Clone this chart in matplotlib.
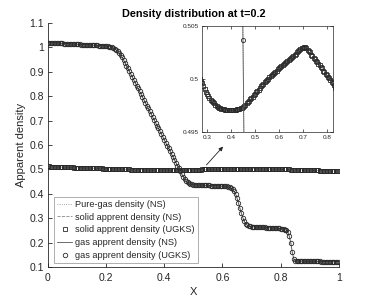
import numpy as np
import matplotlib
matplotlib.use("Agg")
import matplotlib.pyplot as plt

plt.rcParams['font.family'] = ['Liberation Sans', 'DejaVu Sans']

# grid (x positions of the cells)
x = np.linspace(0.0, 1.0, 201)

gas_density = [
    1.019, 1.019, 1.018, 1.018, 1.018, 1.017, 1.017, 1.017, 1.016, 1.016,
    1.016, 1.015, 1.015, 1.015, 1.014, 1.014, 1.014, 1.013, 1.013, 1.013,
    1.012, 1.012, 1.012, 1.011, 1.011, 1.011, 1.010, 1.010, 1.010, 1.009,
    1.009, 1.009, 1.008, 1.008, 1.008, 1.007, 1.007, 1.006, 1.006, 1.005,
    1.005, 1.004, 1.003, 1.002, 1.001, 0.998, 0.994, 0.989, 0.983, 0.978,
    0.970, 0.960, 0.9485, 0.9368, 0.9251, 0.9134, 0.9017, 0.8900, 0.8783, 0.8666,
    0.8549, 0.8432, 0.8315, 0.8198, 0.8080, 0.7963, 0.7846, 0.7729, 0.7612, 0.7495,
    0.7378, 0.7261, 0.7144, 0.7027, 0.6910, 0.6793, 0.6676, 0.6559, 0.6442, 0.6325,
    0.6208, 0.6090, 0.5973, 0.5856, 0.5739, 0.5622, 0.5505, 0.5388, 0.5271, 0.5154,
    0.5037, 0.492, 0.481, 0.470, 0.461, 0.453, 0.447, 0.443, 0.440, 0.438,
    0.437, 0.436, 0.436, 0.436, 0.435, 0.435, 0.435, 0.435, 0.434, 0.434,
    0.434, 0.434, 0.433, 0.433, 0.433, 0.433, 0.432, 0.432, 0.432, 0.431,
    0.431, 0.431, 0.430, 0.430, 0.428, 0.426, 0.423, 0.418, 0.410, 0.400,
    0.383, 0.362, 0.340, 0.320, 0.302, 0.287, 0.277, 0.271, 0.268, 0.266,
    0.265, 0.265, 0.264, 0.264, 0.263, 0.263, 0.263, 0.262, 0.262, 0.262,
    0.261, 0.261, 0.261, 0.260, 0.260, 0.260, 0.259, 0.259, 0.258, 0.258,
    0.257, 0.256, 0.255, 0.253, 0.251, 0.242, 0.225, 0.198, 0.160, 0.133,
    0.125, 0.124, 0.124, 0.124, 0.124, 0.124, 0.124, 0.123, 0.123, 0.123,
    0.123, 0.123, 0.123, 0.123, 0.123, 0.123, 0.123, 0.123, 0.122, 0.122,
    0.122, 0.122, 0.122, 0.122, 0.122, 0.122, 0.122, 0.122, 0.122, 0.122,
    0.122,
]

solid_density = [
    0.5120, 0.5117, 0.5114, 0.5111, 0.5108, 0.5105, 0.5102, 0.5099, 0.5096, 0.5093,
    0.5090, 0.5088, 0.5086, 0.5084, 0.5082, 0.5080, 0.5078, 0.5076, 0.5074, 0.5072,
    0.5070, 0.5068, 0.5066, 0.5064, 0.5062, 0.5060, 0.5058, 0.5056, 0.5054, 0.5052,
    0.5050, 0.5048, 0.5046, 0.5044, 0.5042, 0.5040, 0.5038, 0.5036, 0.5034, 0.5032,
    0.5030, 0.5028, 0.5026, 0.5024, 0.5022, 0.5020, 0.5018, 0.5016, 0.5014, 0.5012,
    0.5010, 0.5008, 0.5005, 0.5003, 0.5000, 0.4998, 0.4996, 0.4993, 0.4991, 0.4988,
    0.4986, 0.4984, 0.4982, 0.4980, 0.4979, 0.4978, 0.4977, 0.4976, 0.4975, 0.4974,
    0.4973, 0.4973, 0.4972, 0.4972, 0.4972, 0.4971, 0.4971, 0.4971, 0.4971, 0.4971,
    0.4971, 0.4971, 0.4971, 0.4971, 0.4971, 0.4972, 0.4972, 0.4972, 0.4973, 0.4973,
    0.4974, 0.4975, 0.4976, 0.4977, 0.4978, 0.4979, 0.4981, 0.4982, 0.4983, 0.4985,
    0.4986, 0.4988, 0.4989, 0.4990, 0.4992, 0.4993, 0.4994, 0.4995, 0.4997, 0.4998,
    0.4999, 0.5000, 0.5002, 0.5003, 0.5004, 0.5005, 0.5006, 0.5007, 0.5008, 0.5009,
    0.5010, 0.5011, 0.5012, 0.5013, 0.5014, 0.5015, 0.5016, 0.5017, 0.5018, 0.5019,
    0.5020, 0.5021, 0.5022, 0.5023, 0.5024, 0.5025, 0.5026, 0.5027, 0.5028, 0.5029,
    0.5029, 0.5030, 0.5030, 0.5029, 0.5027, 0.5026, 0.5025, 0.5023, 0.5022, 0.5020,
    0.5019, 0.5017, 0.5016, 0.5014, 0.5013, 0.5011, 0.5010, 0.5008, 0.5007, 0.5005,
    0.5004, 0.5002, 0.5001, 0.4999, 0.4997, 0.4996, 0.4994, 0.4992, 0.4990, 0.4988,
    0.4986, 0.4984, 0.4982, 0.4980, 0.4978, 0.4976, 0.4974, 0.4972, 0.4970, 0.4968,
    0.4966, 0.4964, 0.4962, 0.4960, 0.4958, 0.4956, 0.4954, 0.4952, 0.4950, 0.4948,
    0.4946, 0.4944, 0.4942, 0.4940, 0.4938, 0.4936, 0.4934, 0.4932, 0.4930, 0.4928,
    0.4926,
]

title = "Density distribution at t=0.2"
labels = ["Pure-gas density (NS)", "solid apprent density (NS)",
          "solid apprent density (UGKS)", "gas apprent density (NS)",
          "gas apprent density (UGKS)"]
main_xticks = [0, 0.2, 0.4, 0.6, 0.8, 1]
main_yticks = [0.1, 0.2, 0.3, 0.4, 0.5, 0.6, 0.7, 0.8, 0.9, 1.0, 1.1]
inset_xticks = [0.3, 0.4, 0.5, 0.6, 0.7, 0.8]
inset_yticks = [0.495, 0.5, 0.505]

ink = '#262626'
mk = '#2a2a2a'

fig = plt.figure(figsize=(3.74, 3.01), dpi=100)


def draw(ax, ms_c, ms_s, mew):
    h1, = ax.plot(x, gas_density, ':', color='#888888', lw=0.6)
    h2, = ax.plot(x, solid_density, '--', color='#888888', lw=0.6)
    h3, = ax.plot(x, solid_density, 's', ms=ms_s, mfc='none', mec=mk, mew=mew, ls='none')
    h4, = ax.plot(x, gas_density, '-', color='#555555', lw=0.6)
    h5, = ax.plot(x, gas_density, 'o', ms=ms_c, mfc='none', mec=mk, mew=mew, ls='none')
    return [h1, h2, h3, h4, h5]


ax = fig.add_axes([0.128, 0.113, 0.778, 0.811])
handles = draw(ax, 3.2, 2.8, 0.6)
ax.set_xlim(0, 1)
ax.set_ylim(0.1, 1.1)
ax.set_xticks(main_xticks)
ax.set_xticklabels(['0', '0.2', '0.4', '0.6', '0.8', '1'])
ax.set_yticks(main_yticks)
ax.set_yticklabels(['0.1', '0.2', '0.3', '0.4', '0.5', '0.6', '0.7', '0.8', '0.9', '1', '1.1'])
ax.spines['top'].set_visible(False)
ax.spines['right'].set_visible(False)
for s in ['left', 'bottom']:
    ax.spines[s].set_color(ink)
    ax.spines[s].set_linewidth(0.6)
ax.tick_params(direction='in', length=3, width=0.6, colors=ink, labelsize=7.5, pad=3)
ax.tick_params(axis='x', pad=4)
ax.set_xlabel('X', fontsize=8, color=ink, labelpad=3)
ax.set_ylabel('Apparent density', fontsize=8, color=ink, labelpad=2)
ax.set_title(title, fontsize=7.8, fontweight='bold', color='black', pad=4)

leg = ax.legend(handles, labels, loc='lower left', bbox_to_anchor=(0.022, 0.015),
                fontsize=6.6, frameon=True, fancybox=False, borderpad=0.35,
                labelspacing=0.42, handlelength=1.6, handletextpad=0.3,
                borderaxespad=0.0)
leg.get_frame().set_edgecolor('#8a8a8a')
leg.get_frame().set_linewidth(0.6)
for t in leg.get_texts():
    t.set_color(ink)

ax.annotate('', xy=(0.602, 0.593), xytext=(0.545, 0.518),
            arrowprops=dict(arrowstyle='-|>', color='#222222', lw=0.6,
                            mutation_scale=6, shrinkA=0, shrinkB=0))

ins = fig.add_axes([0.540, 0.561, 0.350, 0.353])
draw(ins, 3.0, 2.6, 0.6)
ins.set_xlim(0.279, 0.825)
ins.set_ylim(0.495, 0.505)
ins.set_xticks(inset_xticks)
ins.set_xticklabels(['0.3', '0.4', '0.5', '0.6', '0.7', '0.8'])
ins.set_yticks(inset_yticks)
ins.set_yticklabels(['0.495', '0.5', '0.505'])
ins.tick_params(direction='in', length=2, width=0.5, colors=ink, labelsize=4.6, pad=2,
                top=True, right=True)
for s in ins.spines.values():
    s.set_color(ink)
    s.set_linewidth(0.5)

fig.savefig('out.png', dpi=100)
